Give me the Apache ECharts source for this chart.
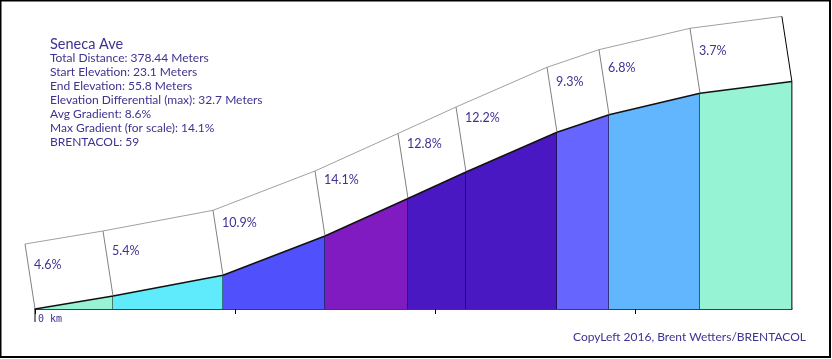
<!DOCTYPE html>
<html><head><meta charset="utf-8">
<script src="https://cdn.jsdelivr.net/npm/echarts@6/dist/echarts.min.js"></script>
<style>html,body{margin:0;padding:0;background:#fff}#c{width:832px;height:359px}</style>
</head><body><div id="c"></div>
<script>
// Segment boundaries (meters along route) and elevations (meters)
var distances = [0, 39, 94, 145, 186.5, 215.5, 261, 287, 332.5, 378.44];
var elevations = [23.1, 24.97, 27.94, 33.59, 38.98, 42.78, 48.49, 51.02, 54.09, 55.8];
var gradientLabels = ['4.6%', '5.4%', '10.9%', '14.1%', '12.8%', '12.2%', '9.3%', '6.8%', '3.7%'];
var gradients = [4.6, 5.4, 10.9, 14.1, 12.8, 12.2, 9.3, 6.8, 3.7];
var segmentColors = ['#96f3d4', '#60ebfc', '#5050fc', '#7f1bc0', '#4a18c2', '#4a18c2', '#6666fe', '#62b6fe', '#96f3d4'];
var infoLines = ['Total Distance: 378.44 Meters', 'Start Elevation: 23.1 Meters', 'End Elevation: 55.8 Meters',
  'Elevation Differential (max): 32.7 Meters', 'Avg Gradient: 8.6%', 'Max Gradient (for scale): 14.1%', 'BRENTACOL: 59'];
var title = 'Seneca Ave';
var credit = 'CopyLeft 2016, Brent Wetters/BRENTACOL';
var xTicks = [0, 100, 200, 300];

var TXT = '#3d3390';
var FONT = 'Lato';
var minElev = elevations[0];
var OFF = [-10, -65];

var data = [];
for (var i = 0; i < gradients.length; i++) {
  data.push([distances[i], distances[i + 1], elevations[i], elevations[i + 1], i]);
}
var last = gradients.length - 1;

function renderItem(params, api) {
  var d0 = api.value(0), d1 = api.value(1), e0 = api.value(2), e1 = api.value(3), idx = api.value(4);
  var p0 = api.coord([d0, e0]), p1 = api.coord([d1, e1]);
  var b0 = api.coord([d0, minElev]), b1 = api.coord([d1, minElev]);
  var t0 = [p0[0] + OFF[0], p0[1] + OFF[1]], t1 = [p1[0] + OFF[0], p1[1] + OFF[1]];
  var ch = [];
  ch.push({type: 'polygon', shape: {points: [b0, p0, p1, b1]}, style: {fill: segmentColors[idx], stroke: null}});
  ch.push({type: 'polygon', shape: {points: [p0, p1, t1, t0]}, style: {fill: '#fff', stroke: null}});
  ch.push({type: 'line', shape: {x1: t0[0], y1: t0[1], x2: t1[0], y2: t1[1]}, style: {stroke: '#a0a0a0', lineWidth: 1}});
  ch.push({type: 'line', shape: {x1: p0[0], y1: p0[1], x2: t0[0], y2: t0[1]}, style: {stroke: '#808080', lineWidth: 1}});
  if (idx === last) {
    ch.push({type: 'line', shape: {x1: p1[0], y1: p1[1], x2: t1[0], y2: t1[1]}, style: {stroke: '#000', lineWidth: 1}});
  }
  ch.push({type: 'line', shape: {x1: b1[0], y1: b1[1], x2: p1[0], y2: p1[1]}, style: {stroke: '#000', lineWidth: 1}});
  ch.push({type: 'line', shape: {x1: p0[0], y1: p0[1], x2: p1[0], y2: p1[1]}, style: {stroke: '#111', lineWidth: 1.5}});
  var g = gradients[idx];
  ch.push({type: 'text', x: t0[0] + 9, y: t0[1] + 27 - 1.3 * g,
    style: {text: gradientLabels[idx], fill: TXT, font: '12.5px ' + FONT, textAlign: 'left', textVerticalAlign: 'middle'}});
  if (idx === 0) {
    ch.push({type: 'line', shape: {x1: b0[0], y1: b0[1], x2: b0[0], y2: b0[1] + 13}, style: {stroke: '#000', lineWidth: 1}});
  }
  return {type: 'group', children: ch};
}

var graphics = [
  {type: 'rect', shape: {x: 0.5, y: 0.5, width: 829.5, height: 356.5}, style: {fill: null, stroke: '#000', lineWidth: 2}, z: 100},
  {type: 'text', left: 50, top: 37, style: {text: title, fill: TXT, font: '14.5px ' + FONT}}
];
infoLines.forEach(function (t, k) {
  graphics.push({type: 'text', left: 50, top: 52 + k * 14, style: {text: t, fill: TXT, font: '12px ' + FONT}});
});
graphics.push({type: 'text', left: 573, top: 331, style: {text: credit, fill: TXT, font: '12px ' + FONT}});

var chart = echarts.init(document.getElementById('c'), null, {renderer: 'canvas'});
chart.setOption({
  animation: false,
  grid: {left: 35, top: 0, width: 756.88, height: 309, containLabel: false},
  xAxis: {
    type: 'value', min: 0, max: 378.44, interval: 100,
    axisLine: {show: true, lineStyle: {color: '#000', width: 1.5}},
    axisTick: {show: true, length: 5, lineStyle: {color: '#000'}},
    splitLine: {show: false},
    axisLabel: {
      show: true, margin: 5, align: 'left', padding: [0, 0, 0, 3], color: TXT, fontFamily: 'DejaVu Sans Mono', fontSize: 10,
      showMaxLabel: false,
      formatter: function (v) { return v === xTicks[0] ? '0 km' : ''; }
    }
  },
  yAxis: {type: 'value', min: minElev, max: minElev + 309 / 6.96, show: false},
  series: [{type: 'custom', renderItem: renderItem, data: data, clip: false}],
  graphic: graphics
});
</script></body></html>
